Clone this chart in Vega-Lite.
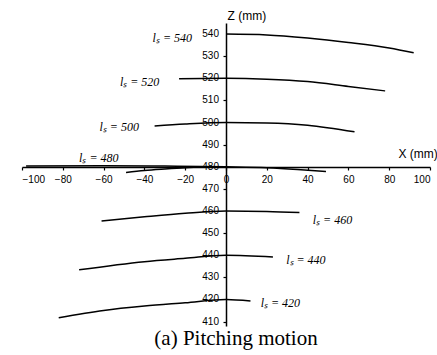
{
  "$schema": "https://vega.github.io/schema/vega-lite/v6.json",
  "width": 408,
  "height": 303,
  "autosize": {"type": "none"},
  "padding": {"left": 22, "top": 23, "right": 7, "bottom": 29},
  "background": "white",
  "title": {
    "text": "(a) Pitching motion",
    "orient": "bottom",
    "anchor": "middle",
    "font": "Liberation Serif",
    "fontSize": 21,
    "fontWeight": "normal",
    "color": "black",
    "offset": 1,
    "dx": 10
  },
  "config": {
    "view": {"stroke": null},
    "axis": {
      "domainColor": "black",
      "domainWidth": 1.5,
      "tickColor": "black",
      "tickWidth": 1.2,
      "tickSize": 3,
      "labelPadding": 4,
      "labelFont": "Liberation Sans",
      "labelFontSize": 10,
      "labelColor": "black",
      "labelOverlap": false,
      "grid": false,
      "titleFont": "Liberation Sans",
      "titleFontSize": 12,
      "titleFontWeight": "normal",
      "titleColor": "black"
    }
  },
  "datasets": {
    "curves": [
      {"s": "540", "x": 0, "z": 540},
      {"s": "540", "x": 20, "z": 539.6},
      {"s": "540", "x": 40, "z": 538.2},
      {"s": "540", "x": 60, "z": 536.2},
      {"s": "540", "x": 80, "z": 533.7},
      {"s": "540", "x": 92, "z": 531.5},
      {"s": "520", "x": -23, "z": 519.8},
      {"s": "520", "x": 0, "z": 520},
      {"s": "520", "x": 20, "z": 519.6},
      {"s": "520", "x": 40, "z": 518.5},
      {"s": "520", "x": 60, "z": 516.3},
      {"s": "520", "x": 78, "z": 514.3},
      {"s": "500", "x": -35, "z": 498.4},
      {"s": "500", "x": -20, "z": 499.3},
      {"s": "500", "x": 0, "z": 500},
      {"s": "500", "x": 20, "z": 499.8},
      {"s": "500", "x": 40, "z": 498.8},
      {"s": "500", "x": 63, "z": 495.8},
      {"s": "480", "x": -98, "z": 480.3},
      {"s": "480", "x": -60, "z": 480.5},
      {"s": "480", "x": -30, "z": 480.3},
      {"s": "480", "x": 0, "z": 480},
      {"s": "480", "x": 20, "z": 479.6},
      {"s": "480", "x": 35, "z": 478.8},
      {"s": "480", "x": 49, "z": 477.8},
      {"s": "480b", "x": -49, "z": 477.4},
      {"s": "480b", "x": -40, "z": 478.3},
      {"s": "480b", "x": -30, "z": 479.0},
      {"s": "480b", "x": -20, "z": 479.6},
      {"s": "480b", "x": -10, "z": 480},
      {"s": "460", "x": -61, "z": 455.5},
      {"s": "460", "x": -40, "z": 457.4},
      {"s": "460", "x": -20, "z": 459},
      {"s": "460", "x": 0, "z": 460},
      {"s": "460", "x": 20, "z": 459.8},
      {"s": "460", "x": 36, "z": 459.3},
      {"s": "440", "x": -72, "z": 433.4},
      {"s": "440", "x": -40, "z": 437.1},
      {"s": "440", "x": -20, "z": 438.6},
      {"s": "440", "x": 0, "z": 440},
      {"s": "440", "x": 23, "z": 439.2},
      {"s": "420", "x": -82, "z": 411.7},
      {"s": "420", "x": -60, "z": 415},
      {"s": "420", "x": -40, "z": 417},
      {"s": "420", "x": -20, "z": 418.5},
      {"s": "420", "x": 0, "z": 420},
      {"s": "420", "x": 12, "z": 419.3}
    ],
    "labels": [
      {"t": "lₛ = 540", "x": -36, "z": 538.4},
      {"t": "lₛ = 520", "x": -52, "z": 518.5},
      {"t": "lₛ = 500", "x": -62, "z": 498},
      {"t": "lₛ = 480", "x": -72, "z": 484},
      {"t": "lₛ = 460", "x": 42.5, "z": 456},
      {"t": "lₛ = 440", "x": 29.5, "z": 438},
      {"t": "lₛ = 420", "x": 17, "z": 418.5}
    ],
    "zticks": [
      {"z": 410}, {"z": 420}, {"z": 430}, {"z": 440}, {"z": 450}, {"z": 460}, {"z": 470},
      {"z": 480}, {"z": 490}, {"z": 500}, {"z": 510}, {"z": 520}, {"z": 530}, {"z": 540}
    ]
  },
  "layer": [
    {
      "data": {"name": "curves"},
      "mark": {"type": "line", "color": "black", "strokeWidth": 1.5, "interpolate": "monotone", "clip": false},
      "encoding": {
        "x": {
          "field": "x", "type": "quantitative",
          "scale": {"domain": [-100, 100], "nice": false, "zero": false},
          "axis": {
            "title": "X (mm)",
            "orient": "bottom",
            "offset": -159,
            "labelOverlap": false,
            "values": [-100, -80, -60, -40, -20, 0, 20, 40, 60, 80, 100],
            "titleX": 376,
            "titleY": -14,
            "titleAlign": "left",
            "titleBaseline": "middle",
            "titleAnchor": null
          }
        },
        "y": {
          "field": "z", "type": "quantitative",
          "scale": {"domain": [408, 545], "nice": false, "zero": false},
          "axis": {
            "title": "Z (mm)",
            "orient": "left",
            "offset": -204,
            "labels": false,
            "values": [410, 420, 430, 440, 450, 460, 470, 480, 490, 500, 510, 520, 530, 540],
            "titleAngle": 0,
            "titleX": 1,
            "titleY": -8,
            "titleAlign": "left",
            "titleBaseline": "middle",
            "titleAnchor": null
          }
        },
        "detail": {"field": "s", "type": "nominal"}
      }
    },
    {
      "data": {"name": "zticks"},
      "mark": {"type": "text", "align": "right", "baseline": "middle", "dx": -7, "font": "Liberation Sans", "fontSize": 10, "color": "black"},
      "encoding": {
        "x": {"datum": 0, "type": "quantitative"},
        "y": {"field": "z", "type": "quantitative"},
        "text": {"field": "z", "type": "quantitative"}
      }
    },
    {
      "data": {"name": "labels"},
      "mark": {"type": "text", "align": "left", "baseline": "middle", "font": "Liberation Serif", "fontStyle": "italic", "fontSize": 12, "color": "black"},
      "encoding": {
        "x": {"field": "x", "type": "quantitative"},
        "y": {"field": "z", "type": "quantitative"},
        "text": {"field": "t"}
      }
    }
  ]
}
